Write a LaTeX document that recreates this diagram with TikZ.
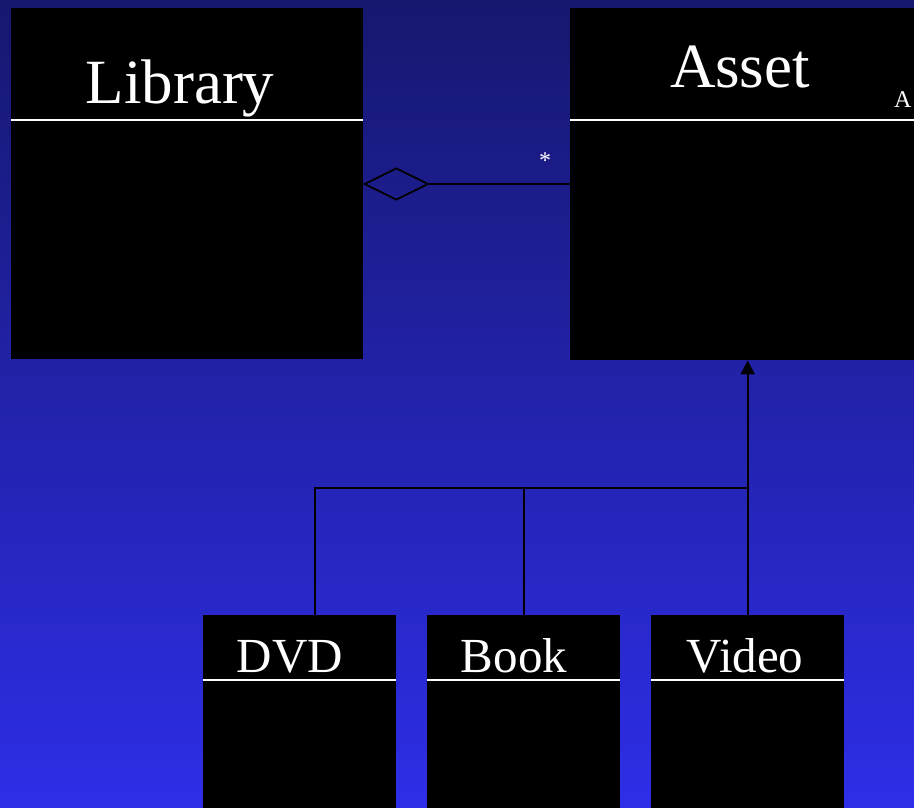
\documentclass[tikz,border=0pt]{standalone}
\usepackage{fontspec}
\setmainfont{Liberation Serif}
\usetikzlibrary{arrows.meta,shapes.geometric}
\definecolor{bgtop}{RGB}{22,23,110}
\definecolor{bgmid}{RGB}{38,38,196}
\definecolor{bgbot}{RGB}{46,46,232}
\begin{document}
\begin{tikzpicture}[x=1pt,y=-1pt,
  classbox/.style={draw=none,fill=black,inner sep=0pt,anchor=north west},
  sepline/.style={draw=white,line width=1.6pt},
  conn/.style={draw=black,line width=1.8pt},
  bigname/.style={text=white,anchor=base,inner sep=0pt,font=\fontsize{63}{70}\selectfont},
  smallname/.style={text=white,anchor=base,inner sep=0pt,font=\fontsize{49}{54}\selectfont}]
\useasboundingbox (0,0) rectangle (914,807);
\clip (0,0) rectangle (914,807);
\shade[top color=bgtop,middle color=bgmid,bottom color=bgbot] (0,0) rectangle (914,807);
% class boxes
\node[classbox,minimum width=352pt,minimum height=351pt] (Library) at (11,8) {};
\node[classbox,minimum width=360pt,minimum height=352pt] (Asset) at (570,8) {};
\node[classbox,minimum width=193pt,minimum height=220pt] (DVD) at (203,615) {};
\node[classbox,minimum width=193pt,minimum height=220pt] (Book) at (427,615) {};
\node[classbox,minimum width=193pt,minimum height=220pt] (Video) at (651,615) {};
% separators
\draw[sepline] (Library.west |- 0,120) -- (Library.east |- 0,120);
\draw[sepline] (Asset.west |- 0,120) -- (Asset.east |- 0,120);
\draw[sepline] (DVD.west |- 0,680) -- (DVD.east |- 0,680);
\draw[sepline] (Book.west |- 0,680) -- (Book.east |- 0,680);
\draw[sepline] (Video.west |- 0,680) -- (Video.east |- 0,680);
% names
\node[bigname] (libname) at (180,103) {Library};
\node[bigname] (assetname) at (740,87) {Asset};
\node[text=white,anchor=base west,inner sep=0pt,font=\fontsize{24}{28}\selectfont] (abs) at (894,107) {A};
\node[smallname] (dvdname) at (290,672) {DVD};
\node[smallname] (bookname) at (514,672) {Book};
\node[smallname] (videoname) at (745,672) {Video};
% aggregation
\node[diamond,draw=black,line width=1.8pt,inner sep=0pt,minimum width=64pt,minimum height=32pt,anchor=west] (dia) at (Library.east |- 0,184) {};
\draw[conn] (dia.east) -- (Asset.west |- dia.east);
\node[text=white,inner sep=0pt,font=\fontsize{24}{26}\selectfont] (mult) at (545,161) {*};
% generalization
\coordinate (j) at (747,488);
\draw[conn] ([xshift=15.5pt]DVD.north) |- (j);
\draw[conn] (Book.north) -- (Book.north |- j);
\draw[conn,-{Triangle[length=14pt,width=14pt]}] (Video.north) -- (Video.north |- Asset.south);
\end{tikzpicture}
\end{document}
